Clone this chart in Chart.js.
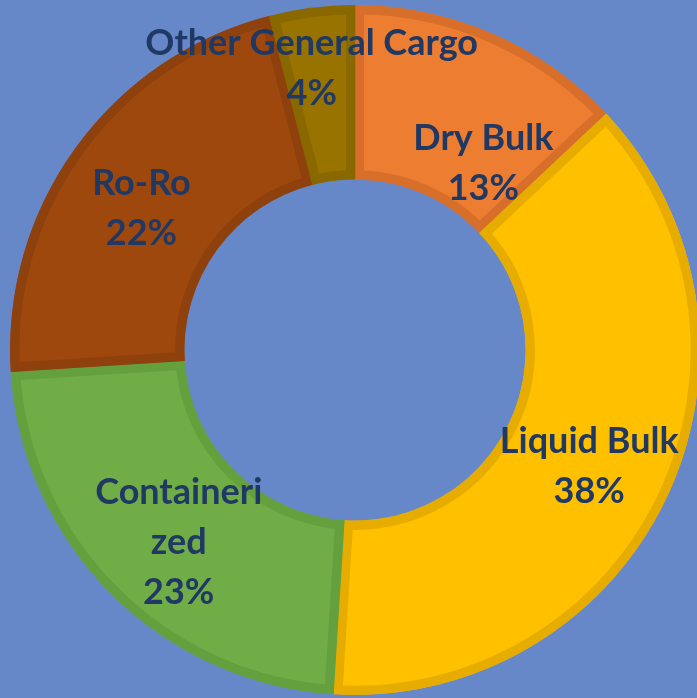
<!DOCTYPE html>
<html>
<head>
<meta charset="utf-8">
<script src="https://cdn.jsdelivr.net/npm/chart.js@4/dist/chart.umd.min.js"></script>
<style>
  html, body { margin: 0; padding: 0; background: #6788c8; overflow: hidden; }
  #wrap { position: absolute; left: 0; top: 0; width: 697px; height: 698px; overflow: hidden; background: #6788c8; }
  #c { position: absolute; left: 0; top: 0; }
</style>
</head>
<body>
<div id="wrap"><canvas id="c" width="710" height="700"></canvas></div>
<script>
// ---- data ----
const categories = ['Dry Bulk', 'Liquid Bulk', 'Containerized', 'Ro-Ro', 'Other General Cargo'];
const shares = [13, 38, 23, 22, 4];
// how each category name is wrapped on the chart (as in the reference)
const labelLines = [['Dry Bulk'], ['Liquid Bulk'], ['Containeri', 'zed'], ['Ro-Ro'], ['Other General Cargo']];

// ---- styles ----
const fillColors = ['#ed7d31', '#ffc000', '#70ad47', '#9e480e', '#997300'];
const edgeColors = ['#d76f2b', '#e6ad00', '#65a03f', '#8e410d', '#8a6800'];
const labelOffsets = [[26, 50], [1, 7], [6, 10], [-5, 10], [-11, -26]];

const labelPlugin = {
  id: 'sliceLabels',
  afterDatasetsDraw(chart) {
    const ctx = chart.ctx;
    const meta = chart.getDatasetMeta(0);
    const ds = chart.data.datasets[0];
    const total = ds.data.reduce((a, b) => a + b, 0);
    ctx.save();
    ctx.font = 'bold 36px Lato, "Open Sans", sans-serif';
    ctx.fillStyle = '#203864';
    ctx.textAlign = 'center';
    ctx.textBaseline = 'middle';
    const lineH = 50;
    meta.data.forEach((arc, i) => {
      const p = arc.getCenterPoint();
      const lines = labelLines[i].concat([Math.round(ds.data[i] / total * 100) + '%']);
      const cx = p.x + labelOffsets[i][0];
      const cy = p.y + labelOffsets[i][1];
      const y0 = cy - (lines.length - 1) * lineH / 2;
      lines.forEach((t, k) => ctx.fillText(t, cx, y0 + k * lineH));
    });
    ctx.restore();
  }
};

new Chart(document.getElementById('c'), {
  type: 'doughnut',
  data: {
    labels: categories,
    datasets: [{
      data: shares,
      backgroundColor: fillColors,
      borderColor: edgeColors,
      borderWidth: 9,
      borderAlign: 'inner'
    }]
  },
  options: {
    responsive: false,
    animation: false,
    radius: 345,
    cutout: 173,
    rotation: 0,
    layout: { padding: 0 },
    plugins: {
      legend: { display: false },
      tooltip: { enabled: false }
    }
  },
  plugins: [labelPlugin]
});
</script>
</body>
</html>
